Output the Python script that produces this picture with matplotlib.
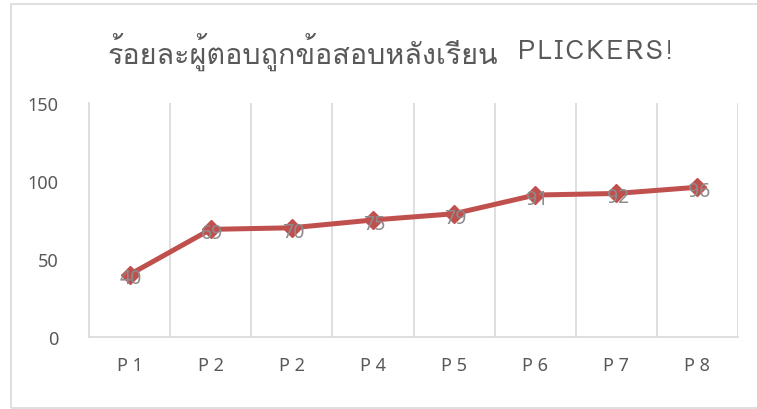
import matplotlib
matplotlib.use("Agg")
import matplotlib.pyplot as plt
from matplotlib import font_manager
from matplotlib.ft2font import FT2Font
from matplotlib.patches import Rectangle

labels = ["P1", "P2", "P2", "P4", "P5", "P6", "P7", "P8"]
scores = [40, 69, 70, 75, 79, 91, 92, 96]
title_th = "ร้อยละผู้ตอบถูกข้อสอบหลังเรียน"
title_en = "PLICKERS!"

# find a font that has Thai glyphs
thai_font = None
for fe in font_manager.fontManager.ttflist:
    try:
        if 0x0E23 in FT2Font(fe.fname).get_charmap():
            thai_font = fe.name
            break
    except Exception:
        pass
fams = ([thai_font] if thai_font else []) + ["DejaVu Sans"]

grey = "#595959"
fig = plt.figure(figsize=(7.57, 4.10), dpi=100)
fig.patches.append(Rectangle((11 / 757, 1 / 410), 760 / 757, 404 / 410,
                             transform=fig.transFigure, fill=False,
                             edgecolor="#d9d9d9", linewidth=1.2))
ax = fig.add_axes([89 / 757, 1 - 338 / 410, 649 / 757, 234 / 410])

x = list(range(len(scores)))
ax.plot(x, scores, color="#C0504D", linewidth=3.6, marker="D",
        markersize=9.5, zorder=3)
for i, v in enumerate(scores):
    ax.text(i + 0.02, v - 2.5, str(v), ha="center", va="center", fontsize=14,
            color="#8c8c8c", family="Noto Sans", zorder=4)

ax.set_xlim(-0.5, len(scores) - 0.5)
ax.set_ylim(0, 150)
ax.set_yticks([0, 50, 100, 150])
ax.set_xticks(x)
ax.set_xticklabels([" ".join(l) for l in labels])
for b in range(1, len(scores) + 1):
    ax.axvline(b - 0.5, color="#d9d9d9", linewidth=1.2, zorder=1)

for s in ["top", "right"]:
    ax.spines[s].set_visible(False)
for s in ["left", "bottom"]:
    ax.spines[s].set_color("#d9d9d9")
    ax.spines[s].set_linewidth(1.2)
ax.tick_params(length=0, labelsize=13, colors=grey)
for t in ax.get_xticklabels() + ax.get_yticklabels():
    t.set_family("Noto Sans")
ax.tick_params(axis="x", pad=14)
ax.tick_params(axis="y", pad=22)

# title in two parts: Thai, then the letter-spaced English word
fig.text(498 / 757, 1 - 52 / 410, title_th, ha="right", va="center",
         fontsize=20.7, color=grey, family=fams)
fig.text(518 / 757, 1 - 52 / 410, "\u200a".join(title_en), ha="left",
         va="center", fontsize=18.5, color=grey, family=fams)

fig.savefig("out.png", dpi=100)
